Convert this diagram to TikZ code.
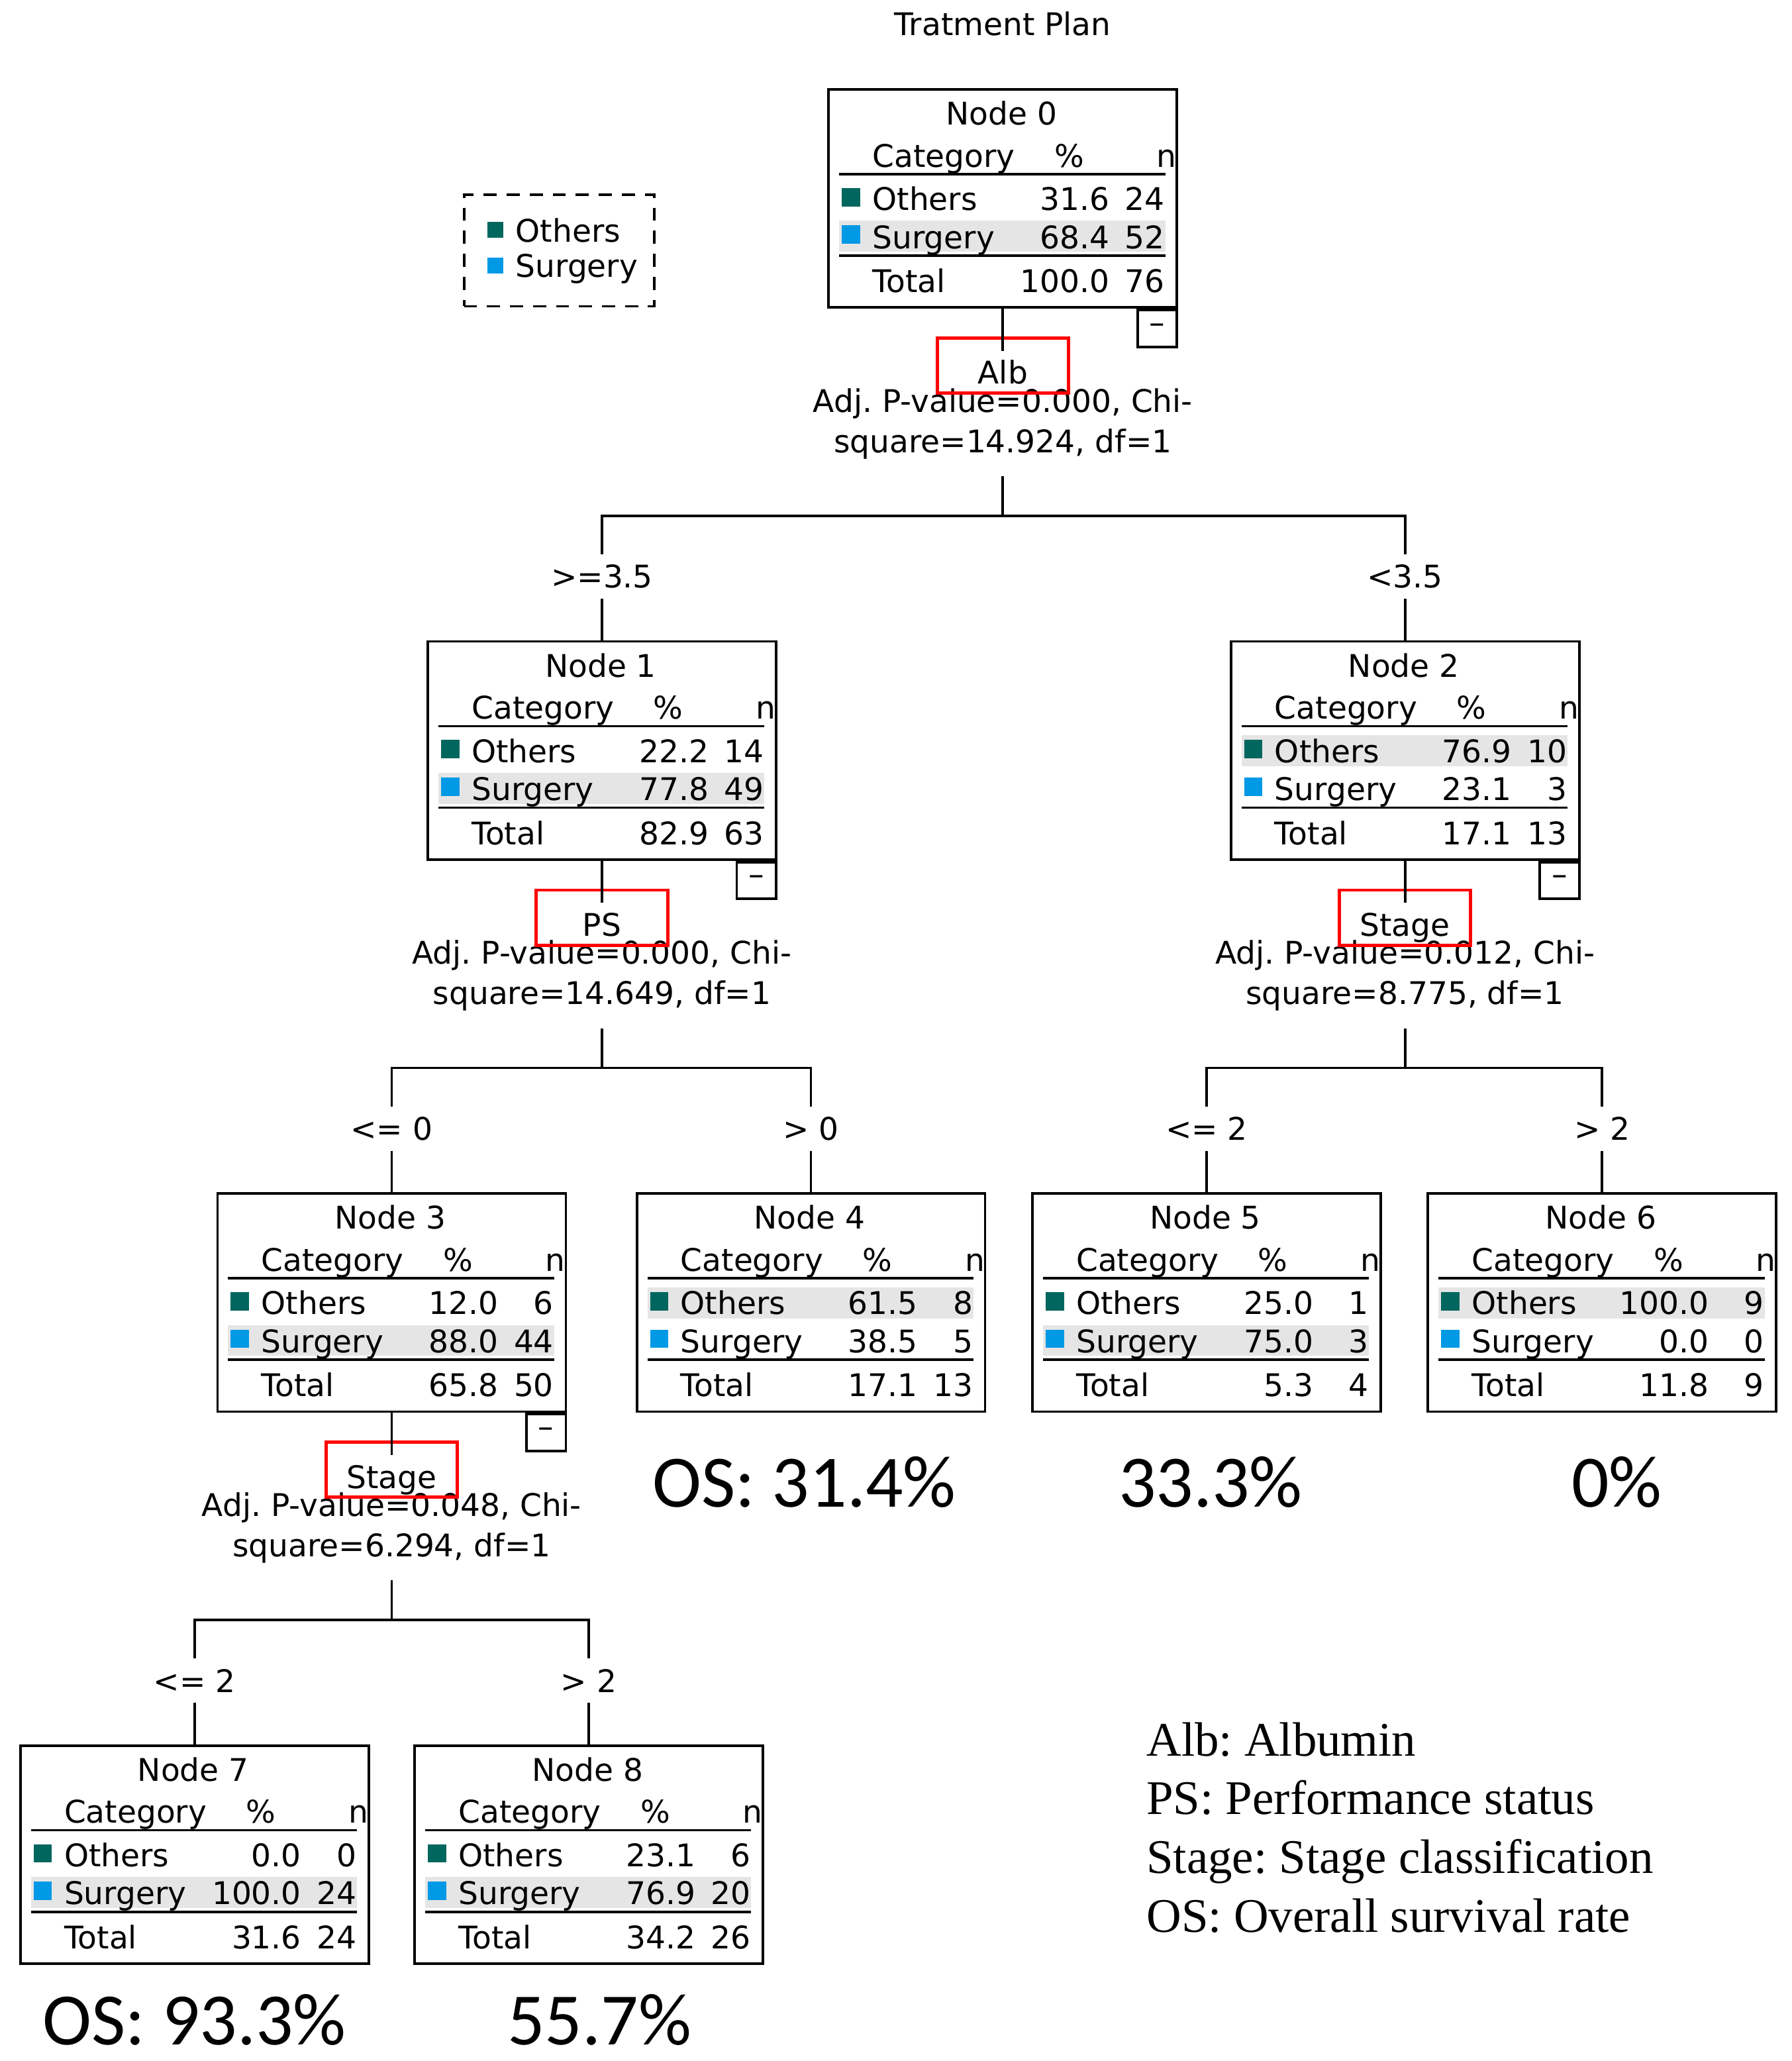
\documentclass[tikz,border=0pt]{standalone}
\usepackage{fontspec}
\setmainfont{DejaVu Sans}
\newfontfamily\osfont{Carlito}
\newfontfamily\notefont{Liberation Serif}
\usetikzlibrary{positioning}
\frenchspacing

\definecolor{othersc}{RGB}{0,102,94}
\definecolor{surgeryc}{RGB}{0,153,229}
\definecolor{rowgray}{RGB}{229,229,229}

\tikzset{
  txt/.style={inner sep=0pt, font=\fontsize{13.5}{16}\selectfont},
  nodebox/.style={draw, line width=1.1pt, minimum width=53mm, minimum height=33.2mm, inner sep=0pt},
  minusbox/.style={txt, draw, line width=1.1pt, minimum width=6mm, minimum height=5.6mm},
  varbox/.style={txt, draw=red, line width=1.4pt, minimum width=20mm, text height=7mm, text depth=1.4mm},
  stat/.style={txt, inner ysep=2.6mm, align=center, font=\fontsize{13.5}{17.4}\selectfont},
  branch/.style={txt, minimum height=6.6mm},
  legendbox/.style={draw, line width=1.1pt, dash pattern=on 2mm off 1.5mm, minimum width=29mm, minimum height=17mm},
  ostext/.style={inner sep=0pt, font=\osfont\fontsize{32}{36}\selectfont},
  notes/.style={inner sep=0pt, align=left, font=\notefont\fontsize{20.9}{25.4}\selectfont},
  edge/.style={line width=1.1pt},
  rule/.style={line width=1pt}
}

% nod SPSS: #1 nr, #2 sus-centru, #3-#8 valori, #9 rand gri
\newcommand\spssnode[9]{%
  \node[nodebox, anchor=north] (n#1) at (#2) {};
  \begin{scope}[shift={(n#1.north west)}]
    \fill[rowgray] (9,#9) rectangle (257,#9+23.5);
    \node[txt, anchor=base] (n#1t) at (132.5,28) {Node #1};
    \node[txt, anchor=base west] (n#1c) at (34,60) {Category};
    \node[txt, anchor=base] (n#1p) at (184,60) {\%};
    \node[txt, anchor=base east] (n#1n) at (266,60) {n};
    \draw[rule] (9,65.5) -- (257,65.5);
    \fill[othersc] (11,76) rectangle (25,90);
    \node[txt, anchor=base west] (n#1o) at (34,93) {Others};
    \node[txt, anchor=base east] (n#1op) at (215,93) {#3};
    \node[txt, anchor=base east] (n#1on) at (257,93) {#4};
    \fill[surgeryc] (11,104.5) rectangle (25,118.5);
    \node[txt, anchor=base west] (n#1s) at (34,122) {Surgery};
    \node[txt, anchor=base east] (n#1sp) at (215,122) {#5};
    \node[txt, anchor=base east] (n#1sn) at (257,122) {#6};
    \draw[rule] (9,127.5) -- (257,127.5);
    \node[txt, anchor=base west] (n#1g) at (34,155.5) {Total};
    \node[txt, anchor=base east] (n#1gp) at (215,155.5) {#7};
    \node[txt, anchor=base east] (n#1gn) at (257,155.5) {#8};
  \end{scope}
}

\begin{document}
\begin{tikzpicture}[x=0.2mm,y=-0.2mm]
  \useasboundingbox (0,0) rectangle (1363,1568);
  % titlu
  \node[txt, anchor=base] (title) at (763,27) {Tratment Plan};

  % legenda
  \node[legendbox] (legend) at (425.5,190.5) {};
  \fill[othersc] (371,169) rectangle (383,181);
  \node[txt, anchor=base west] (lo) at (392,184) {Others};
  \fill[surgeryc] (371,196) rectangle (383,208);
  \node[txt, anchor=base west] (ls) at (392,211) {Surgery};

  % nodurile arborelui
  \spssnode{0}{763,67}{31.6}{24}{68.4}{52}{100.0}{76}{101}
  \spssnode{1}{458,487}{22.2}{14}{77.8}{49}{82.9}{63}{101}
  \spssnode{2}{1069,487}{76.9}{10}{23.1}{3}{17.1}{13}{72.5}
  \spssnode{3}{298,907}{12.0}{6}{88.0}{44}{65.8}{50}{101}
  \spssnode{4}{617,907}{61.5}{8}{38.5}{5}{17.1}{13}{72.5}
  \spssnode{5}{918,907}{25.0}{1}{75.0}{3}{5.3}{4}{101}
  \spssnode{6}{1219,907}{100.0}{9}{0.0}{0}{11.8}{9}{72.5}
  \spssnode{7}{148,1327}{0.0}{0}{100.0}{24}{31.6}{24}{101}
  \spssnode{8}{448,1327}{23.1}{6}{76.9}{20}{34.2}{26}{101}
  \foreach \k in {0,1,2,3}
    \node[minusbox, anchor=north east] (m\k) at (n\k.south east) {\textendash};

  % statistici
  \node[stat, below=9.45mm of n0] (s0) {Adj. P-value=0.000, Chi-\\square=14.924, df=1};
  \node[stat, below=9.45mm of n1] (s1) {Adj. P-value=0.000, Chi-\\square=14.649, df=1};
  \node[stat, below=9.45mm of n2] (s2) {Adj. P-value=0.012, Chi-\\square=8.775, df=1};
  \node[stat, below=9.45mm of n3] (s3) {Adj. P-value=0.048, Chi-\\square=6.294, df=1};

  % variabile (cadru rosu)
  \node[varbox, below=4.2mm of n0] (v0) {Alb};
  \node[varbox, below=4.2mm of n1] (v1) {PS};
  \node[varbox, below=4.2mm of n2] (v2) {Stage};
  \node[varbox, below=4.2mm of n3] (v3) {Stage};

  % ramuri
  \foreach \k in {0,1,2,3}
    \coordinate[below=31.5mm of n\k] (j\k);
  \node[branch, above=6.3mm of n1] (b1) {>=3.5};
  \node[branch, above=6.3mm of n2] (b2) {<3.5};
  \node[branch, above=6.3mm of n3] (b3) {<= 0};
  \node[branch, above=6.3mm of n4] (b4) {> 0};
  \node[branch, above=6.3mm of n5] (b5) {<= 2};
  \node[branch, above=6.3mm of n6] (b6) {> 2};
  \node[branch, above=6.3mm of n7] (b7) {<= 2};
  \node[branch, above=6.3mm of n8] (b8) {> 2};

  \foreach \p/\a/\b in {0/1/2,1/3/4,2/5/6,3/7/8}{
    \draw[edge] (n\p) -- ([yshift=-2.2mm]v\p.north);
    \draw[edge] (s\p) -- (j\p);
    \draw[edge] (b\a.north) |- (j\p) -| (b\b.north);
    \draw[edge] (b\a) -- (n\a);
    \draw[edge] (b\b) -- (n\b);
  }

  % supravietuire
  \node[ostext, below=6.6mm of n4, xshift=-1mm] (os4) {OS: 31.4\%};
  \node[ostext, below=6.6mm of n5, xshift=0.6mm] (os5) {33.3\%};
  \node[ostext, below=6.6mm of n6, xshift=2.2mm] (os6) {0\%};
  \node[ostext, below=4.4mm of n7] (os7) {OS: 93.3\%};
  \node[ostext, below=4.4mm of n8, xshift=1.6mm] (os8) {55.7\%};

  % abrevieri
  \node[notes, anchor=north west] (abbr) at (872,1310)
    {Alb: Albumin\\PS: Performance status\\Stage: Stage classification\\OS: Overall survival rate};
\end{tikzpicture}
\end{document}
